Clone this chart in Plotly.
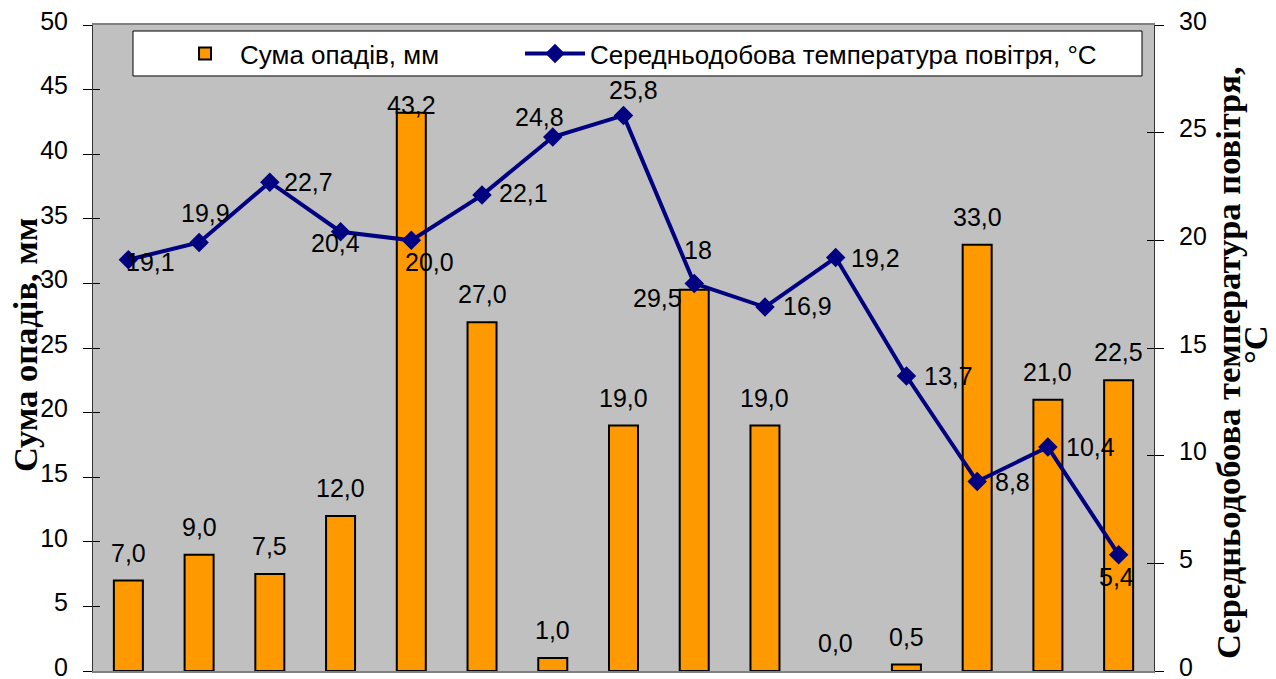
import plotly.graph_objects as go

# ---- data ----
periods = list(range(1, 16))
precip = [7.0, 9.0, 7.5, 12.0, 43.2, 27.0, 1.0, 19.0, 29.5, 19.0, 0.0, 0.5, 33.0, 21.0, 22.5]
precip_labels = ["7,0", "9,0", "7,5", "12,0", "43,2", "27,0", "1,0", "19,0", "29,5", "19,0",
                 "0,0", "0,5", "33,0", "21,0", "22,5"]
temp = [19.1, 19.9, 22.7, 20.4, 20.0, 22.1, 24.8, 25.8, 18.0, 16.9, 19.2, 13.7, 8.8, 10.4, 5.4]
temp_labels = ["19,1", "19,9", "22,7", "20,4", "20,0", "22,1", "24,8", "25,8", "18", "16,9",
               "19,2", "13,7", "8,8", "10,4", "5,4"]
left_ticks = [0, 5, 10, 15, 20, 25, 30, 35, 40, 45, 50]
right_ticks = [0, 5, 10, 15, 20, 25, 30]

# ---- label offsets (pixels, styling) ----
precip_shift = [(0, 28)] * 15
precip_shift = list(precip_shift)
precip_shift[4] = (0, 8)
precip_shift[8] = (-37, -8)
temp_shift = [(22, -2), (6, 29), (39, 0), (-5, -11), (18, -22), (41, 2), (-13, 20), (10, 25),
              (4, 33), (43, 1), (40, 0), (42, 0), (35, 0), (43, 0), (-2, -22)]

FONT = "Liberation Sans, Arial, sans-serif"
SERIF = "Liberation Serif, Times New Roman, serif"

fig = go.Figure()
fig.add_trace(go.Bar(
    x=periods, y=precip, name="Сума опадів, мм",
    marker=dict(color="#FF9900",
                line=dict(color="black", width=[2 if v > 0 else 0 for v in precip])),
    width=0.41, yaxis="y", legendwidth=275,
))
fig.add_trace(go.Scatter(
    x=periods, y=temp, name="Середньодобова температура повітря, °C",
    mode="lines+markers", yaxis="y2", legendwidth=560,
    line=dict(color="#000080", width=4),
    marker=dict(symbol="diamond", size=15, color="#000080"),
))
# invisible traces so that the tick-overlay axes render
fig.add_trace(go.Scatter(x=[periods[0]], y=[0], yaxis="y3", mode="markers",
                         marker=dict(opacity=0), showlegend=False, hoverinfo="skip"))
fig.add_trace(go.Scatter(x=[periods[0]], y=[0], yaxis="y4", mode="markers",
                         marker=dict(opacity=0), showlegend=False, hoverinfo="skip"))

annotations = []
for xv, yv, txt, (dx, dy) in zip(periods, precip, precip_labels, precip_shift):
    annotations.append(dict(x=xv, y=yv, xref="x", yref="y", text=txt, showarrow=False,
                            xshift=dx, yshift=dy, font=dict(family=FONT, size=25, color="black")))
for xv, yv, txt, (dx, dy) in zip(periods, temp, temp_labels, temp_shift):
    annotations.append(dict(x=xv, y=yv, xref="x", yref="y2", text=txt, showarrow=False,
                            xshift=dx, yshift=dy, font=dict(family=FONT, size=25, color="black")))
TITLE_FONT = dict(family=SERIF, size=34.5, color="black")
annotations.append(dict(x=-0.0641, y=0.5046, xref="paper", yref="paper",
                        xanchor="center", yanchor="middle",
                        text="<b>Сума опадів, мм</b>", textangle=-90, showarrow=False,
                        font=TITLE_FONT))
annotations.append(dict(x=1.0697, y=0.4783, xref="paper", yref="paper",
                        xanchor="center", yanchor="middle",
                        text="<b>Середньодобова температура повітря,</b>", textangle=-90,
                        showarrow=False, font=TITLE_FONT))
annotations.append(dict(x=1.0, y=0.5046, xref="paper", yref="paper",
                        xanchor="right", yanchor="middle", xshift=122,
                        text="<b>°C</b>", textangle=-90,
                        showarrow=False, font=TITLE_FONT))

axis_common = dict(showgrid=False, zeroline=False, ticklabeloverflow="allow", ticklabelshift=-4,
                   tickfont=dict(family=FONT, size=25, color="black"))

fig.update_layout(
    width=1276, height=679,
    margin=dict(l=93, r=122, t=25, b=8, autoexpand=False),
    paper_bgcolor="white", plot_bgcolor="#C0C0C0",
    xaxis=dict(range=[0.5, 15.5], showticklabels=False, ticks="", showgrid=False, zeroline=False,
               showline=True, linecolor="#808080", linewidth=2, mirror=True),
    yaxis=dict(range=[0, 50], tickvals=left_ticks, ticks="outside", ticklen=9, tickcolor="black",
               ticklabelstandoff=10, showline=True, linecolor="#333333", linewidth=1, **axis_common),
    yaxis2=dict(range=[0, 30], tickvals=right_ticks, overlaying="y", side="right", ticks="outside",
                ticklen=9, tickcolor="black", ticklabelstandoff=10, showline=True,
                linecolor="#333333", linewidth=1, **axis_common),
    yaxis3=dict(range=[0, 50], tickvals=left_ticks, overlaying="y", side="left", ticks="inside",
                ticklen=7, tickcolor="black", showticklabels=False, showline=False,
                showgrid=False, zeroline=False),
    yaxis4=dict(range=[0, 30], tickvals=right_ticks, overlaying="y", side="right", ticks="inside",
                ticklen=7, tickcolor="black", showticklabels=False, showline=False,
                showgrid=False, zeroline=False),
    shapes=[dict(type="rect", xref="paper", yref="paper", x0=0.0377, x1=0.9887,
                 y0=0.9211, y1=0.9907, fillcolor="white",
                 line=dict(color="black", width=1), layer="below")],
    legend=dict(orientation="h", x=0.0726, y=0.9559, xanchor="left", yanchor="middle",
                bgcolor="rgba(0,0,0,0)", borderwidth=0,
                font=dict(family=FONT, size=26, color="black"), itemwidth=60),
    annotations=annotations,
    showlegend=True,
)

fig.write_html("out.html")
